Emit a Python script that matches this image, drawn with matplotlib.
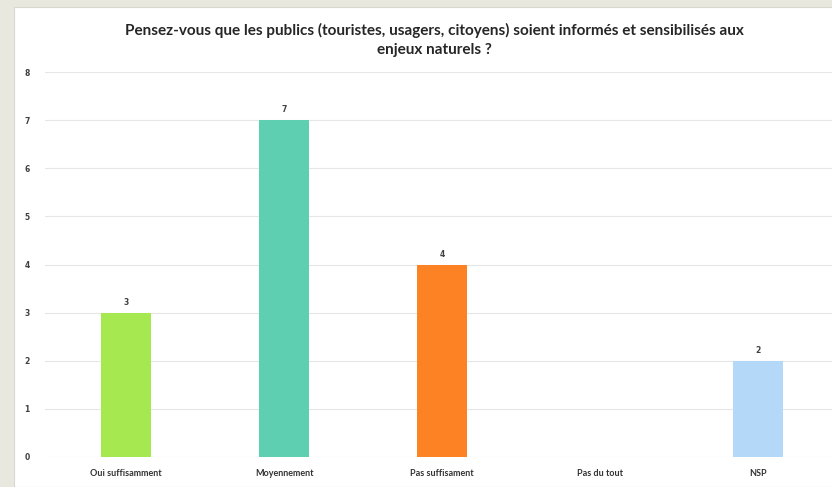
import matplotlib.pyplot as plt
from matplotlib.patches import Rectangle

categories = ["Oui suffisamment", "Moyennement", "Pas suffisament", "Pas du tout", "NSP"]
values = [3, 7, 4, 0, 2]
colors = ["#a6e84f", "#5ecfb1", "#fd8224", "#b4d8f7", "#b4d8f7"]
yticks = [0, 1, 2, 3, 4, 5, 6, 7, 8]
title = "Pensez-vous que les publics (touristes, usagers, citoyens) soient informés et sensibilisés aux\nenjeux naturels ?"

plt.rcParams['font.family'] = ['Lato', 'DejaVu Sans']

fig = plt.figure(figsize=(8.32, 4.87), dpi=100)
fig.patch.set_facecolor("#e9e8df")

# panneau blanc
fig.patches.append(Rectangle((14 / 832, 0), 1, 1 - 7 / 487, transform=fig.transFigure,
                             facecolor="white", edgecolor="#d8d8d0", linewidth=0.8, zorder=-1))

ax = fig.add_axes([45 / 832, 30 / 487, 1 - 45 / 832, 385 / 487])
ax.set_zorder(2)
ax.set_facecolor("none")
x = range(len(categories))
bars = ax.bar(x, values, width=0.32, color=colors, zorder=2)
for b, v in zip(bars, values):
    if v > 0:
        ax.text(b.get_x() + b.get_width() / 2, v + 0.12, str(v), ha="center", va="bottom",
                fontsize=5.5, fontweight="bold", color="#404040", family="DejaVu Sans")

ax.set_xlim(-0.513, 4.468)
ax.set_ylim(0, 8)
ax.set_yticks(yticks)
ax.set_yticklabels([str(t) for t in yticks], fontweight="bold", family="DejaVu Sans", fontsize=5.5)
ax.set_xticks(list(x))
ax.set_xticklabels(categories, fontweight="bold", fontsize=6.5)
ax.grid(axis="y", color="#e6e6e6", linewidth=0.8, zorder=0)
ax.tick_params(length=0)
ax.tick_params(axis="y", pad=11, labelcolor="#404040")
ax.tick_params(axis="x", pad=9, labelcolor="#333333")
for s in ax.spines.values():
    s.set_visible(False)

fig.text(434 / 832, 1 - 23 / 487, title, ha="center", va="top", fontsize=11,
         fontweight="bold", color="#262626", linespacing=1.45)

fig.savefig("out.png", dpi=100, facecolor=fig.get_facecolor())
